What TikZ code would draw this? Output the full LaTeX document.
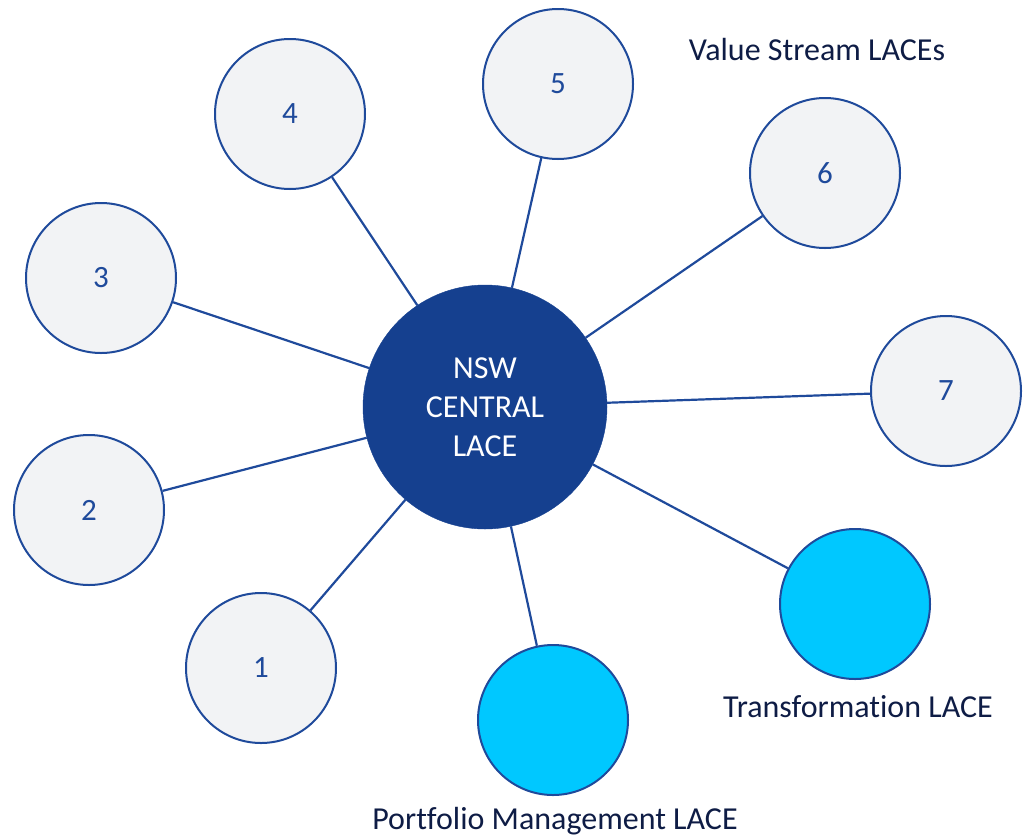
\documentclass[tikz,border=0pt]{standalone}
\usepackage{fontspec}
\setmainfont[Ligatures=NoCommon]{Carlito}
\definecolor{hub}{HTML}{15408F}
\definecolor{edge}{HTML}{1F4A9B}
\definecolor{light}{HTML}{F2F3F5}
\definecolor{cyanfill}{HTML}{00C8FF}
\definecolor{labeltext}{HTML}{0E1C45}
\definecolor{numtext}{HTML}{1F4A9B}
\begin{document}
\begin{tikzpicture}[x=1pt,y=-1pt,
  hubnode/.style={circle,fill=hub,draw=hub,minimum size=244pt,inner sep=0pt,align=center,text=white,font=\fontsize{32}{39}\selectfont},
  vsnode/.style={circle,fill=light,draw=edge,line width=2pt,minimum size=150pt,inner sep=0pt,text=numtext,font=\fontsize{31}{36}\selectfont},
  cynode/.style={circle,fill=cyanfill,draw=edge,line width=2pt,minimum size=150pt,inner sep=0pt},
  link/.style={draw=edge,line width=2.2pt},
  caption/.style={text=labeltext,font=\fontsize{32}{36}\selectfont,inner sep=0pt}]
\useasboundingbox (0,0) rectangle (1025,836);
\node[hubnode] (c) at (485,407) {NSW\\CENTRAL\\LACE};
\node[vsnode] (n1) at (261,668) {1};
\node[vsnode] (n2) at (89,510) {2};
\node[vsnode] (n3) at (101,278) {3};
\node[vsnode] (n4) at (290,114) {4};
\node[vsnode] (n5) at (558,84) {5};
\node[vsnode] (n6) at (825,173) {6};
\node[vsnode] (n7) at (946,391) {7};
\node[cynode] (t) at (855,604) {};
\node[cynode] (p) at (553,720) {};
\foreach \n in {n1,n2,n3,n4,n5,n6,n7,t,p}
  \draw[link] (c) -- (\n);
\node[caption] (vsl) at (817,50) {Value Stream LACEs};
\node[caption] (tl) at (858,707) {Transformation LACE};
\node[caption] (pl) at (555,821) {Portfolio Management LACE};
\end{tikzpicture}
\end{document}
